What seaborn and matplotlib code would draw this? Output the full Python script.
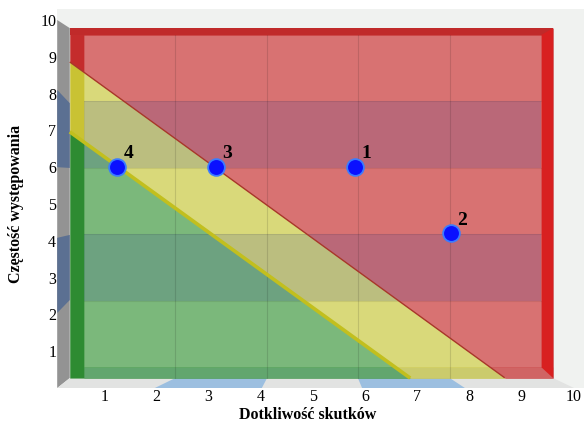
import numpy as np
import matplotlib
matplotlib.use("Agg")
import matplotlib.pyplot as plt
from matplotlib.patches import Polygon, Rectangle
import seaborn as sns

# dane: ryzyka na macierzy
ryzyka = ["1", "2", "3", "4"]
dotkliwosc = [5.8, 7.65, 3.15, 1.25]
czestosc = [6.0, 4.2, 6.0, 6.0]
ticks = list(range(1, 11))

# granice stref: y = a + b * x
granica_czerwona = (9.21, -1.03)
granica_zielona = (7.31, -1.026)

# geometria "pudelka" 3D (uklad danych)
SCIANA_X = 0.10          # przednia krawedz lewej sciany
TYL = (0.34, 9.60, 0.27, 9.78)     # tylna plaszczyzna: x0, x1, y0, y1
WNETRZE = (0.61, 9.37, 0.57, 9.59)  # wnetrze ramki
PODLOGA_X1 = 10.0


def strefy(ax, x0, x1, y0, y1, kolory, z):
    xs = np.linspace(x0, x1, 400)
    yr = np.clip(granica_czerwona[0] + granica_czerwona[1] * xs, y0, y1)
    yg = np.clip(granica_zielona[0] + granica_zielona[1] * xs, y0, y1)
    ax.fill_between(xs, y0, yg, color=kolory[0], lw=0, zorder=z)
    ax.fill_between(xs, yg, yr, color=kolory[1], lw=0, zorder=z)
    ax.fill_between(xs, yr, y1, color=kolory[2], lw=0, zorder=z)


sns.set_style("white")
plt.rcParams['font.family'] = ['Liberation Serif', 'DejaVu Serif']
plt.rcParams['text.color'] = 'black'
plt.rcParams['xtick.color'] = 'black'
plt.rcParams['ytick.color'] = 'black'
plt.rcParams['axes.labelcolor'] = 'black'

fig = plt.figure(figsize=(5.84, 4.23), dpi=100)
ax = fig.add_axes([52 / 584, 35 / 423, 522 / 584, 368 / 423])
ax.set_xlim(0, 10)
ax.set_ylim(0, 10)

# tlo pudelka
ax.add_patch(Rectangle((SCIANA_X, 0), 10.2 - SCIANA_X, 10.3, color='#f0f2f0',
                       lw=0, zorder=0, clip_on=False))

# lewa sciana
x0, x1, y0, y1 = TYL
ax.add_patch(Polygon([(SCIANA_X, 10), (x0, y1), (x0, y0), (SCIANA_X, 0)],
                     closed=True, color='#939393', lw=0, zorder=1, clip_on=False))
for (fa, fb), (ba, bb) in [((6.0, 8.1), (5.98, 7.74)), ((2.04, 4.08), (2.39, 4.16))]:
    ax.add_patch(Polygon([(SCIANA_X, fa), (x0, ba), (x0, bb), (SCIANA_X, fb)],
                         closed=True, color='#5b7092', lw=0, zorder=1.5, clip_on=False))

# podloga
ax.add_patch(Polygon([(SCIANA_X, 0), (PODLOGA_X1, 0), (x1, y0), (x0, y0)],
                     closed=True, color='#e2e3e2', lw=0, zorder=1, clip_on=False))
for (fa, fb), (ba, bb) in [((1.97, 4.02), (2.36, 4.12)), ((5.94, 7.91), (5.86, 7.62))]:
    ax.add_patch(Polygon([(fa, 0), (fb, 0), (bb, y0), (ba, y0)],
                         closed=True, color='#9cbfe0', lw=0, zorder=1.5, clip_on=False))

# ramka i wnetrze tylnej plaszczyzny
ix0, ix1, iy0, iy1 = WNETRZE
strefy(ax, x0, x1, y0, y1, ['#2e8b32', '#c9c233', '#c42c2c'], 2)
strefy(ax, ix0, x1, y0, iy0, ['#62a66e', '#cbcb6c', '#d06464'], 2.05)
ax.add_patch(Rectangle((x0, iy1), x1 - x0, y1 - iy1, color='#c02a2a', lw=0, zorder=2.1))
ax.add_patch(Polygon([(ix1, iy0), (ix1, iy1), (x1, y1), (x1, y0)], closed=True,
                     color='#d82020', lw=0, zorder=2.1))
strefy(ax, ix0, ix1, iy0, iy1, ['#7bb87b', '#d9d97a', '#d87272'], 3)

# ciemniejsze pasy i siatka
dy = (iy1 - iy0) / 5
dx = (ix1 - ix0) / 5
for k in (1, 3):
    ax.add_patch(Rectangle((ix0, iy0 + k * dy), ix1 - ix0, dy, color='#2a3a9a',
                           alpha=0.17, lw=0, zorder=3.5))
for k in range(1, 5):
    ax.plot([ix0 + k * dx] * 2, [y0, iy1], color='#000000', alpha=0.12, lw=0.8, zorder=3.6)
    ax.plot([ix0, ix1], [iy0 + k * dy] * 2, color='#000000', alpha=0.08, lw=0.8, zorder=3.6)

# linie granic stref
xs = np.linspace(x0, x1, 400)
for (a, b), kol, lw in [(granica_czerwona, '#a8382a', 1.0), (granica_zielona, '#c2bf1e', 2.6)]:
    ys = a + b * xs
    m = ys >= y0
    ax.plot(xs[m], ys[m], color=kol, lw=lw, zorder=4, solid_capstyle='butt')

# punkty ryzyka
sns.scatterplot(x=dotkliwosc, y=czestosc, ax=ax, s=145, color='#0a10ff',
                edgecolor='#3a7cff', linewidth=1.3, zorder=5, legend=False)
for lab, xv, yv in zip(ryzyka, dotkliwosc, czestosc):
    ax.annotate(lab, (xv, yv), xytext=(4.5, 3.5), textcoords='offset points',
                ha='left', va='bottom', fontsize=14, fontweight='bold', zorder=6)

ax.set_xticks(ticks)
ax.set_yticks(ticks)
ax.tick_params(axis='both', length=0, labelsize=11.5)
ax.tick_params(axis='y', pad=-3)
ax.tick_params(axis='x', pad=1)
for s in ax.spines.values():
    s.set_visible(False)

ax.set_xlabel('Dotkliwość skutków', fontsize=11.5, fontweight='bold')
ax.set_ylabel('Częstość występowania', fontsize=11.5, fontweight='bold')
ax.xaxis.set_label_coords(0.489, -0.052)
ax.yaxis.set_label_coords(-0.054, 0.5)

fig.savefig('out.png', dpi=100)
